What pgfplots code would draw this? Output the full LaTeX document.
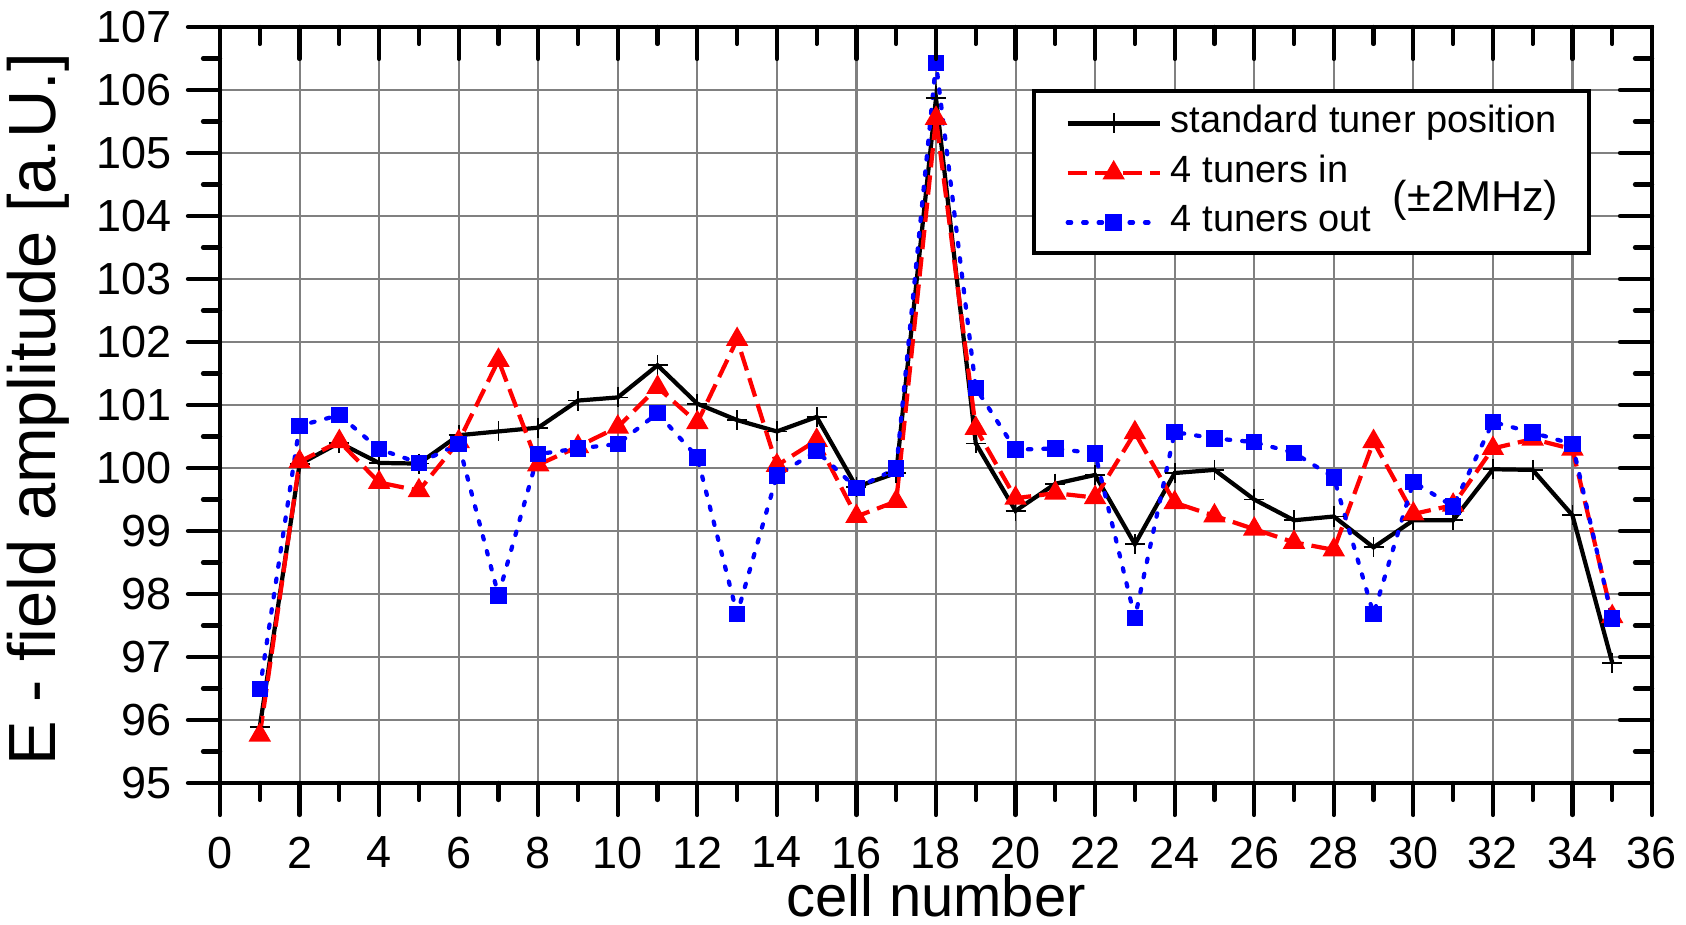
\documentclass[border=0pt]{standalone}
\usepackage{fontspec}
\setmainfont{Liberation Sans}
\usepackage{pgfplots}
\usepackage{pgfplotstable}
\pgfplotsset{compat=1.18}

\pgfplotstableread{
cell std   in     out
1   95.89  95.76  96.49
2  100.06 100.10 100.67
3  100.40 100.42 100.84
4  100.08  99.77 100.30
5  100.07  99.64 100.08
6  100.52 100.42 100.38
7  100.58 101.71  97.98
8  100.64 100.05 100.22
9  101.07 100.34 100.31
10 101.12 100.65 100.38
11 101.63 101.28 100.87
12 101.02 100.72 100.17
13 100.76 102.04  97.68
14 100.58 100.04  99.88
15 100.81 100.44 100.27
16  99.70  99.23  99.68
17  99.92  99.47  99.99
18 105.87 105.55 106.43
19 100.39 100.63 101.27
20  99.32  99.52 100.29
21  99.75  99.60 100.31
22  99.89  99.53 100.23
23  98.79 100.56  97.62
24  99.92  99.45 100.57
25  99.97  99.24 100.47
26  99.50  99.03 100.41
27  99.17  98.82 100.24
28  99.23  98.70  99.85
29  98.74 100.42  97.68
30  99.17  99.27  99.78
31  99.17  99.41  99.39
32  99.98 100.31 100.73
33  99.97 100.46 100.56
34  99.25 100.30 100.38
35  96.91  97.64  97.61
}\cells

\pgfplotsset{
  frame/.style={
    at={(0,0)}, anchor=south west,
    width=14.32cm, height=7.56cm, scale only axis,
    xmin=0, xmax=36, ymin=95, ymax=107,
    xtick={0,2,...,36}, ytick={95,96,...,107},
    minor x tick num=1, minor y tick num=1,
    major tick length=0.32cm, minor tick length=0.17cm,
    every tick/.style={black, line width=1.2pt, line cap=round},
  }
}

\begin{document}
\begin{tikzpicture}
\begin{axis}[
  frame,
  xtick pos=left, ytick pos=left,
  tick align=outside,
  grid=major,
  major grid style={black!50, line width=0.6pt},
  axis line style={line width=1.4pt},
  ticklabel style={font=\fontsize{12.8}{14}\selectfont},
  /pgf/number format/assume math mode=true,
  xticklabel style={anchor=north, inner sep=0pt, yshift=-0.21cm},
  yticklabel style={anchor=east, inner sep=0pt, xshift=-0.16cm},
  every axis x label/.style={at={(axis description cs:0.5,-0.177)}, anchor=base,
    font=\fontsize{16.5}{18}\selectfont},
  every axis y label/.style={at={(axis description cs:-0.127,0.494)}, anchor=center,
    rotate=90, font=\fontsize{19}{22}\selectfont},
  xlabel={cell number},
  ylabel={E - field amplitude [a.U.]},
  legend style={at={(axis description cs:0.590,0.8069)}, anchor=west,
    draw=none, fill=none, inner sep=0pt, row sep=4.4pt, column sep=2.6pt,
    font=\fontsize{10.8}{12}\selectfont,
    nodes={inner sep=0pt, text height=7.5pt, text depth=2.2pt}},
  legend cell align=left,
  legend image code/.code={\draw[mark repeat=2,mark phase=2,#1]
    plot coordinates {(0cm,0cm) (0.46cm,0cm) (0.92cm,0cm)};},
]
\draw[fill=white, line width=1pt]
  (axis description cs:0.5684,0.701) rectangle (axis description cs:0.956,0.9153);
\node[font=\fontsize{12.3}{14}\selectfont] at (axis description cs:0.8768,0.7712) {(±2MHz)};

\addplot[black, line width=1.2pt, mark=+, mark size=2.85pt,
  mark options={line width=0.5pt, solid}] table[x=cell, y=std] {\cells};
\addplot[red, line width=1.2pt, dash pattern=on 5.5pt off 2.3pt,
  mark=triangle*, mark size=2.5pt, mark options={solid}] table[x=cell, y=in] {\cells};
\addplot[blue, line width=1.2pt, dash pattern=on 1pt off 3.4pt, line cap=round,
  mark=square*, mark size=1.75pt, mark options={solid}] table[x=cell, y=out] {\cells};
\legend{standard tuner position, 4 tuners in, 4 tuners out}
\end{axis}

% ticks on top and right point inwards
\begin{axis}[
  frame,
  xtick pos=right, ytick pos=right,
  tick align=inside,
  xticklabels={}, yticklabels={},
  axis line style={draw=none},
]
\end{axis}

\pgfresetboundingbox
\path[use as bounding box] (-2.2cm,-1.42cm) rectangle (14.66cm,7.83cm);
\end{tikzpicture}
\end{document}
